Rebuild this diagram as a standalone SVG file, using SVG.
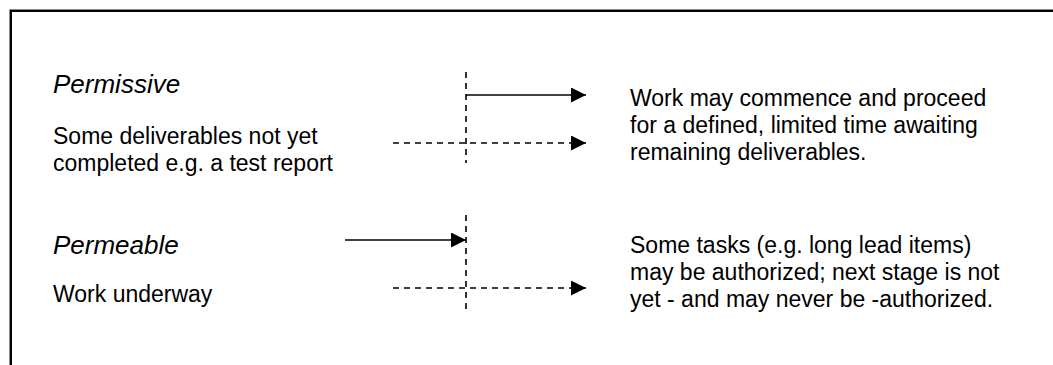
<svg xmlns="http://www.w3.org/2000/svg" width="1053" height="365" viewBox="0 0 1053 365">
<style>
text{font-family:"Liberation Sans",Arial,sans-serif;font-size:23px;fill:#000}
.it{font-style:italic;font-size:26px}
.solid{stroke:#000;stroke-width:1.6;fill:none}
.dash{stroke:#000;stroke-width:1.6;fill:none;stroke-dasharray:6,5}
</style>
<defs>
<marker id="ah" markerUnits="userSpaceOnUse" markerWidth="15" markerHeight="15" refX="15" refY="7.5" orient="auto">
<path d="M0,0 L15,7.5 L0,15 Z" fill="#000"/>
</marker>
</defs>
<rect width="1053" height="365" fill="#fff"/>
<g id="frame">
<path d="M9.5,365 V9.5 H1053" stroke="#888" stroke-width="1" fill="none"/>
<path d="M11,365 V11 H1053" stroke="#000" stroke-width="2" fill="none"/>
</g>
<g id="permissive">
<text class="it" x="53" y="93">Permissive</text>
<text x="53" y="144">Some deliverables not yet</text>
<text x="53" y="171">completed e.g. a test report</text>
</g>
<g id="permissive-note">
<text x="630" y="106">Work may commence and proceed</text>
<text x="630" y="133">for a defined, limited time awaiting</text>
<text x="630" y="160">remaining deliverables.</text>
</g>
<g id="permeable">
<text class="it" x="53" y="254">Permeable</text>
<text x="53" y="302">Work underway</text>
</g>
<g id="permeable-note">
<text x="630" y="253">Some tasks (e.g. long lead items)</text>
<text x="630" y="280">may be authorized; next stage is not</text>
<text x="630" y="307">yet - and may never be -authorized.</text>
</g>
<g id="connectors">
<line class="dash" x1="466" y1="72" x2="466" y2="163"/>
<line class="solid" x1="466" y1="95" x2="586" y2="95" marker-end="url(#ah)"/>
<line class="dash" x1="393" y1="143" x2="586" y2="143" marker-end="url(#ah)"/>
<line class="dash" x1="466" y1="215" x2="466" y2="312"/>
<line class="solid" x1="345" y1="240" x2="466" y2="240" marker-end="url(#ah)"/>
<line class="dash" x1="393" y1="288" x2="586" y2="288" marker-end="url(#ah)"/>
</g>
</svg>
